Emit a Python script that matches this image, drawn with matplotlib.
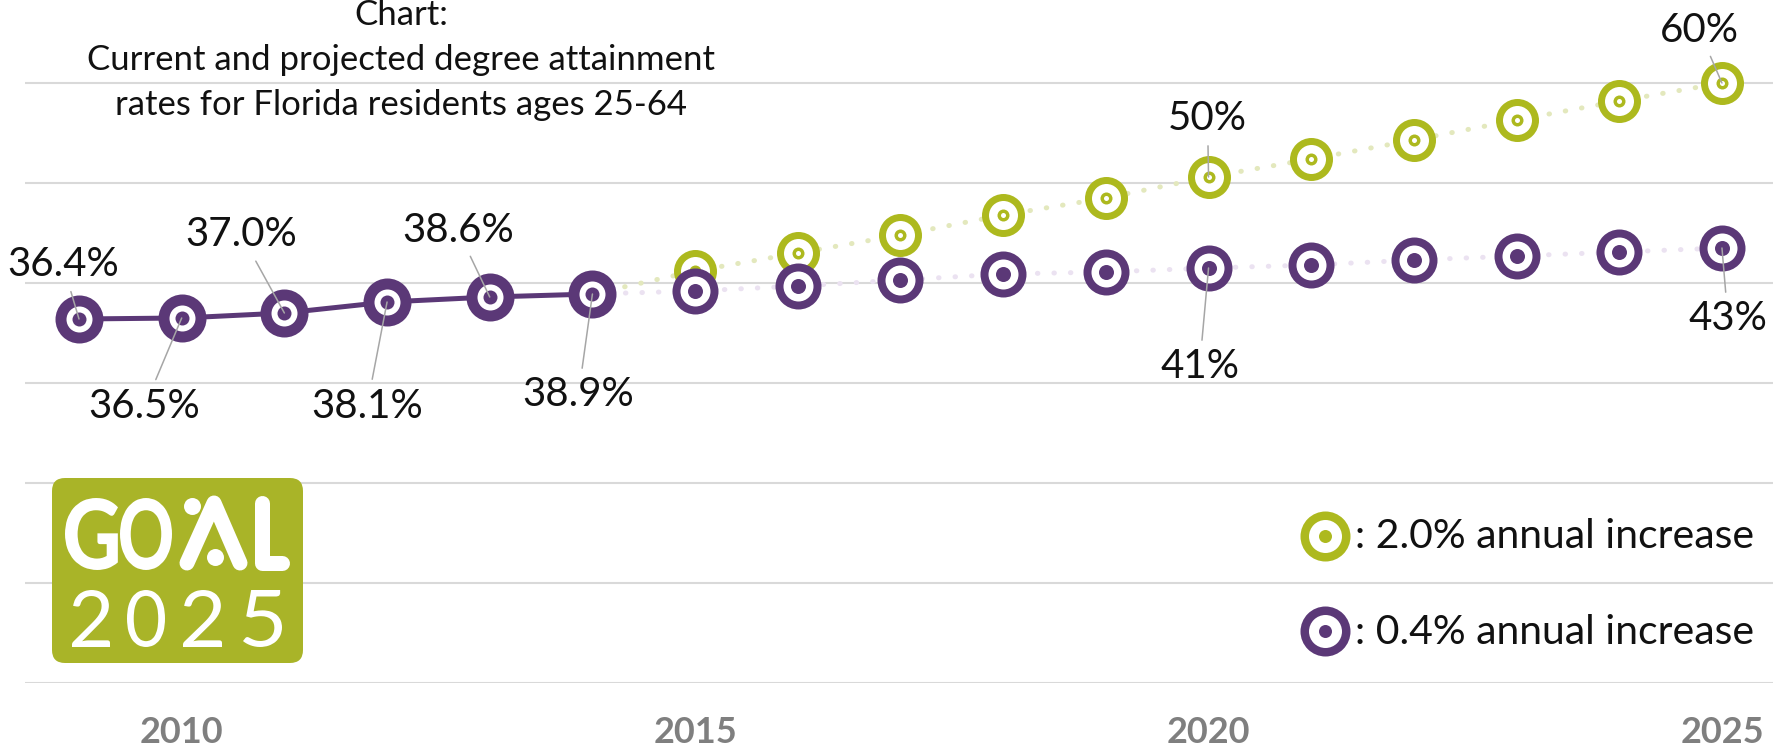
import matplotlib
matplotlib.use("Agg")
import matplotlib.pyplot as plt
from matplotlib.patches import FancyBboxPatch, PathPatch
from matplotlib.textpath import TextPath
from matplotlib.font_manager import FontProperties
from matplotlib.transforms import Affine2D

# ---------------- data ----------------
years_hist = [2009, 2010, 2011, 2012, 2013, 2014]
rate_hist = [36.4, 36.5, 37.0, 38.1, 38.6, 38.9]
years_proj = [2015, 2016, 2017, 2018, 2019, 2020, 2021, 2022, 2023, 2024, 2025]
rate_green = [41.2, 43.0, 44.8, 46.8, 48.5, 50.6, 52.4, 54.3, 56.3, 58.2, 60.0]
rate_purple = [39.2, 39.7, 40.3, 40.9, 41.1, 41.5, 41.8, 42.3, 42.7, 43.1, 43.5]
tick_years = [2010, 2015, 2020, 2025]
title_lines = ["Chart:", "Current and projected degree attainment",
               "rates for Florida residents ages 25-64"]
legend_labels = [": 2.0% annual increase", ": 0.4% annual increase"]
# (series, year, label)
labels = [("hist", 2009, "36.4%"), ("hist", 2010, "36.5%"), ("hist", 2011, "37.0%"),
          ("hist", 2012, "38.1%"), ("hist", 2013, "38.6%"), ("hist", 2014, "38.9%"),
          ("green", 2020, "50%"), ("green", 2025, "60%"),
          ("purple", 2020, "41%"), ("purple", 2025, "43%")]
# label offsets in pixels (layout)
label_offsets = [(-16, 54), (-37, -88), (-43, 78), (-20, -104), (-32, 67), (-14, -101),
                 (-1, 58), (-23, 53), (-9, -99), (6, -71)]

PURPLE = "#5b3877"
GREEN = "#adb91e"
LOGO_GREEN = "#a9b428"
PURPLE_LIGHT = "#ebe2f1"
GREEN_LIGHT = "#e3e8bd"
FONT = "Lato"

W, H = 1788, 751
fig = plt.figure(figsize=(W / 100, H / 100), dpi=100)
PX = 0.72  # points per pixel

ax = fig.add_axes([25 / W, 68 / H, (1773 - 25) / W, 683 / H])
ax.set_xlim(2008.474, 2025.497)
ax.set_ylim(0, 68.3)
for s in ax.spines.values():
    s.set_visible(False)
ax.set_yticks(range(0, 61, 10))
ax.grid(axis="y", color="#d9d9d9", lw=1.5)
ax.set_xticks(tick_years)
ax.set_xticklabels([str(t) for t in tick_years])
ax.tick_params(axis="x", length=0, pad=24, labelsize=26, labelcolor="#7f7f7f")
for t in ax.get_xticklabels():
    t.set_family(FONT)
    t.set_fontweight("bold")
ax.tick_params(axis="y", length=0, labelleft=False)
ax.set_axisbelow(True)

# connecting lines
ax.plot(years_hist, rate_hist, color=PURPLE, lw=5 * PX, zorder=3, solid_capstyle="round")
ax.plot([years_hist[-1]] + years_proj, [rate_hist[-1]] + rate_green, color=GREEN_LIGHT,
        lw=5 * PX, linestyle=(0, (0.1, 3.2)), dash_capstyle="round", zorder=2)
ax.plot([years_hist[-1]] + years_proj, [rate_hist[-1]] + rate_purple, color=PURPLE_LIGHT,
        lw=5 * PX, linestyle=(0, (0.1, 3.2)), dash_capstyle="round", zorder=2.5)


def target(axis, xs, ys, layers, z):
    for i, (d, c) in enumerate(layers):
        axis.plot(xs, ys, "o", ms=d * PX, color=c, mec="none", linestyle="none",
                  zorder=z + i * 0.01, clip_on=False)


green_layers = [(43, GREEN), (29, "white"), (12, GREEN), (5, "white")]
purple_layers = [(46, PURPLE), (30, "white"), (15, PURPLE)]
hist_layers = [(48, PURPLE), (26, "white"), (14, PURPLE)]

target(ax, years_proj, rate_green, green_layers, 4)
target(ax, years_proj, rate_purple, purple_layers, 5)
target(ax, years_hist, rate_hist, hist_layers, 6)

series = {"hist": (years_hist, rate_hist), "green": (years_proj, rate_green),
          "purple": (years_proj, rate_purple)}
for (ser, yr, txt), (dx, dy) in zip(labels, label_offsets):
    xs, ys = series[ser]
    val = ys[xs.index(yr)]
    ax.annotate(txt, xy=(yr, val), xytext=(dx, dy), textcoords="offset pixels",
                ha="center", va="center", fontsize=29, family=FONT, color="#111111",
                zorder=10,
                arrowprops=dict(arrowstyle="-", color="#a6a6a6", lw=1.1,
                                shrinkA=4, shrinkB=0))

# overlay in pixel coordinates
ov = fig.add_axes([0, 0, 1, 1], zorder=5)
ov.set_xlim(0, W)
ov.set_ylim(H, 0)
ov.axis("off")
ov.patch.set_alpha(0)

for i, line in enumerate(title_lines):
    ov.text(401, 25 + 45 * i, line, ha="center", va="baseline", fontsize=25,
            family=FONT, color="#111111")

leg_y = [536, 631]
leg_layers = [[(50, GREEN), (33, "white"), (13, GREEN)],
              [(50, PURPLE), (33, "white"), (13, PURPLE)]]
for yy, lay, txt in zip(leg_y, leg_layers, legend_labels):
    target(ov, [1325], [yy], lay, 6)
    ov.text(1355, yy + 1, txt, ha="left", va="center", fontsize=29.5, family=FONT,
            color="#111111")

# logo
lx0, ly0, lw_, lh_ = 52, 478, 251, 185
lg = fig.add_axes([lx0 / W, (H - ly0 - lh_) / H, lw_ / W, lh_ / H], zorder=6)
lg.set_xlim(0, lw_)
lg.set_ylim(0, lh_)
lg.axis("off")
lg.add_patch(FancyBboxPatch((0, 0), lw_, lh_, boxstyle="round,pad=0,rounding_size=13",
                            fc=LOGO_GREEN, ec="none"))


def fit_text(axis, s, x0, y0, x1, y1, prop):
    tp = TextPath((0, 0), s, size=100, prop=prop)
    e = tp.get_extents()
    tr = Affine2D().translate(-e.x0, -e.y0).scale((x1 - x0) / e.width,
                                                   (y1 - y0) / e.height).translate(x0, y0)
    axis.add_patch(PathPatch(tr.transform_path(tp), fc="white", ec="none"))


bold = FontProperties(family=FONT, weight="black")
regular = FontProperties(family=FONT, weight="normal")
fit_text(lg, "G", 13, 93, 66, 165, bold)
fit_text(lg, "O", 68, 93, 120, 165, bold)
stroke = 15 * PX
lg.plot([135, 162, 188], [100, 160, 100], color="white", lw=stroke,
        solid_capstyle="round", solid_joinstyle="round")
lg.plot([210, 210, 230], [160, 100, 100], color="white", lw=stroke,
        solid_capstyle="round", solid_joinstyle="round")
lg.plot([140, 163], [157, 106], "o", ms=17 * PX, color="white", mec="none")
for ch, (a, b) in zip("2025", [(20, 58), (75, 113), (131, 170), (191, 230)]):
    fit_text(lg, ch, a, 16, b, 73, regular)

fig.savefig("out.png", dpi=100, facecolor="white")
